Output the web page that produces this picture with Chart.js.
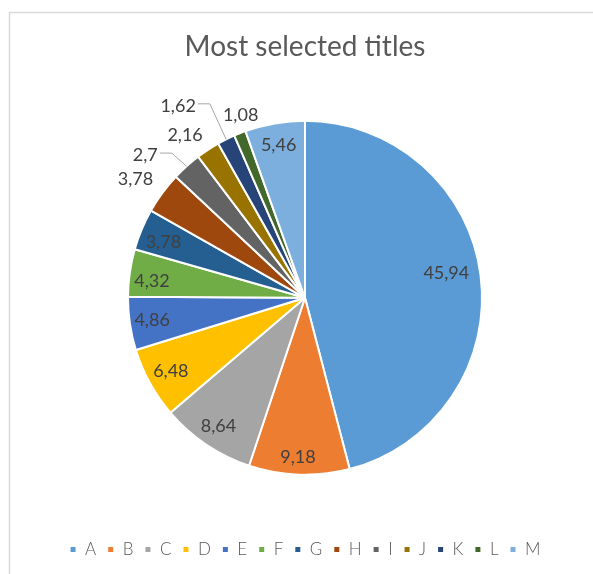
<!DOCTYPE html>
<html>
<head>
<meta charset="utf-8">
<title>Most selected titles</title>
<script src="https://cdn.jsdelivr.net/npm/chart.js@4.4.1/dist/chart.umd.min.js"></script>
<style>
  html, body { margin: 0; padding: 0; background: #fff; }
  #wrap { width: 593px; height: 574px; }
</style>
</head>
<body>
<div id="wrap"><canvas id="chart" width="593" height="574"></canvas></div>
<script>
const chartTitle = 'Most selected titles';
const categories = ['A', 'B', 'C', 'D', 'E', 'F', 'G', 'H', 'I', 'J', 'K', 'L', 'M'];
const shares = [45.94, 9.18, 8.64, 6.48, 4.86, 4.32, 3.78, 3.78, 2.7, 2.16, 1.62, 1.08, 5.46];
const sliceColors = ['#5B9BD5', '#ED7D31', '#A5A5A5', '#FFC000', '#4472C4', '#70AD47', '#255E91',
                     '#9E480E', '#636363', '#997300', '#264478', '#43682B', '#7CAFDD'];

// where each value label sits: fraction of the radius, nudge of the angle (deg), leader line or not
const labelPlacement = [
  [0.81, -2.4, false], [0.90, 0.6, false], [0.875, 0, false], [0.865, 0, false],
  [0.873, 0, false], [0.87, -1.8, false], [0.86, -1.2, false], [1.17, -1.3, false],
  [1.21, -6.2, true], [1.14, -3.2, false], [1.30, -7, true], [1.095, 2.2, false],
  [0.873, 0, false]
];

const fontFamily = 'Lato, "Open Sans", "Liberation Sans", sans-serif';
Chart.defaults.font.family = fontFamily;

// light grey frame of the chart object (runs off the right and bottom of the picture)
const framePlugin = {
  id: 'frame',
  beforeDraw(chart) {
    const ctx = chart.ctx;
    ctx.save();
    ctx.strokeStyle = '#d9d9d9';
    ctx.lineWidth = 1.5;
    ctx.strokeRect(9.5, 12.5, 700, 700);
    ctx.restore();
  }
};

// value labels with decimal comma, some outside with leader lines
const valueLabels = {
  id: 'valueLabels',
  afterDatasetsDraw(chart) {
    const ctx = chart.ctx;
    const meta = chart.getDatasetMeta(0);
    ctx.save();
    ctx.font = '18px ' + fontFamily;
    ctx.fillStyle = '#404040';
    ctx.textAlign = 'center';
    ctx.textBaseline = 'middle';
    meta.data.forEach((arc, i) => {
      const p = arc.getProps(['x', 'y', 'startAngle', 'endAngle', 'outerRadius'], true);
      const mid = (p.startAngle + p.endAngle) / 2;
      const [f, nudge, leader] = labelPlacement[i];
      const a = mid + nudge * Math.PI / 180;
      const lx = p.x + Math.cos(a) * p.outerRadius * f;
      const ly = p.y + Math.sin(a) * p.outerRadius * f;
      const text = String(shares[i]).replace('.', ',');
      ctx.fillText(text, lx, ly);
      if (leader) {
        const w = ctx.measureText(text).width;
        const sx = lx + w / 2 + 2;
        ctx.beginPath();
        ctx.strokeStyle = '#a6a6a6';
        ctx.lineWidth = 1;
        ctx.moveTo(sx, ly - 2);
        ctx.lineTo(sx + 12, ly - 2);
        ctx.lineTo(p.x + Math.cos(mid) * p.outerRadius, p.y + Math.sin(mid) * p.outerRadius);
        ctx.stroke();
      }
    });
    ctx.restore();
  }
};

new Chart(document.getElementById('chart'), {
  type: 'pie',
  data: {
    labels: categories,
    datasets: [{
      data: shares,
      backgroundColor: sliceColors,
      borderColor: '#ffffff',
      borderWidth: 2,
      radius: 177
    }]
  },
  options: {
    responsive: false,
    animation: false,
    devicePixelRatio: 1,
    layout: { padding: { top: 12, left: 17, right: 0, bottom: 6 } },
    plugins: {
      title: {
        display: true,
        text: chartTitle,
        color: '#595959',
        font: { size: 28, weight: 'normal', family: fontFamily },
        padding: { top: 18, bottom: 2 }
      },
      legend: {
        position: 'bottom',
        labels: {
          boxWidth: 7,
          boxHeight: 7,
          padding: 11,
          color: '#595959',
          font: { size: 17, weight: '300', family: fontFamily }
        }
      },
      tooltip: { enabled: false }
    }
  },
  plugins: [framePlugin, valueLabels]
});
</script>
</body>
</html>
